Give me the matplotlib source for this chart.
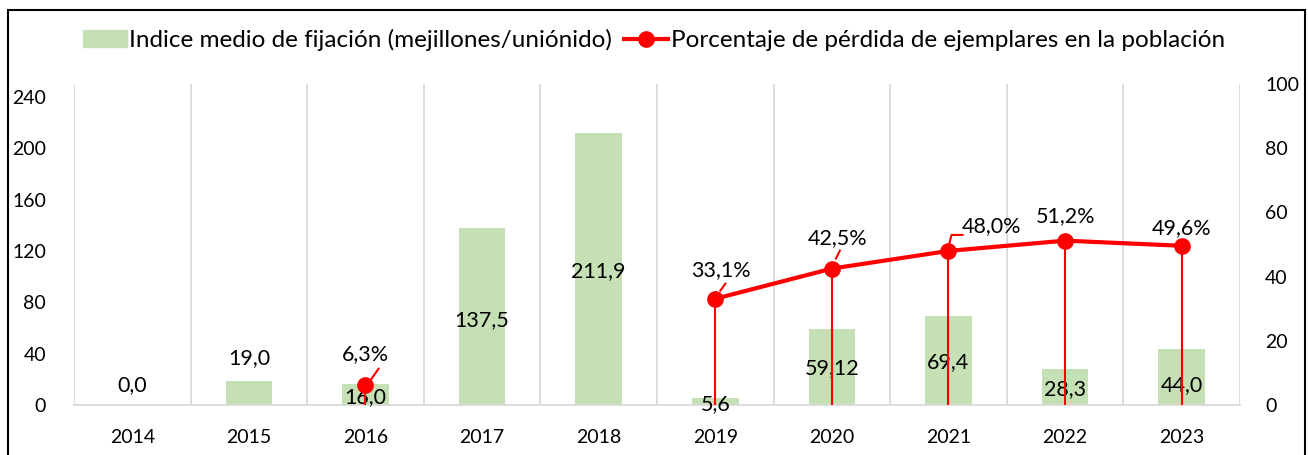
import numpy as np
import matplotlib.pyplot as plt
from matplotlib.patches import Rectangle
from matplotlib.lines import Line2D
import matplotlib.transforms as mtransforms

plt.rcParams['font.family'] = ['Lato', 'DejaVu Sans']

years = ['2014', '2015', '2016', '2017', '2018', '2019', '2020', '2021', '2022', '2023']
fijacion = [0.0, 19.0, 16.0, 137.5, 211.9, 5.6, 59.12, 69.4, 28.3, 44.0]
fijacion_labels = ['0,0', '19,0', '16,0', '137,5', '211,9', '5,6', '59,12', '69,4', '28,3', '44,0']
perdida = [np.nan, np.nan, 6.3, np.nan, np.nan, 33.1, 42.5, 48.0, 51.2, 49.6]
perdida_labels = ['', '', '6,3%', '', '', '33,1%', '42,5%', '48,0%', '51,2%', '49,6%']

# where each data label sits (left axis units for bars, right axis units for the line)
bar_label_y = [15.6, 36.6, 6.2, 66.2, 104.4, 0.8, 28.8, 33.5, 12.5, 15.6]
line_label_pos = {2: (0.0, 15.9), 5: (0.05, 42.0), 6: (0.05, 52.0),
                  7: (0.37, 55.8), 8: (0.0, 58.9), 9: (0.0, 55.1)}
# short leader lines from marker to label, in pixels
leaders = {2: [(6, 6), (13, 16)], 5: [(5, 8), (10, 15)], 6: [(4, 10), (8, 18)],
           7: [(1, 8), (3, 16), (14, 16)]}

GREEN = '#C5E0B4'
RED = '#FF0000'
GRID = '#D9D9D9'

fig = plt.figure(figsize=(13.08, 4.55), dpi=100)
ax = fig.add_axes([74 / 1308, 50 / 455, 1166 / 1308, 321 / 455])
ax2 = ax.twinx()

x = np.arange(len(years))
ax.bar(x, fijacion, width=0.4, color=GREEN, zorder=2)
ax.set_xlim(-0.5, len(years) - 0.5)
ax.set_ylim(0, 250)
ax.set_yticks(np.arange(0, 241, 40))
ax.set_xticks(x)
ax.set_xticklabels(years)

for xb in np.arange(-0.5, len(years), 1.0):
    ax.axvline(xb, color=GRID, lw=1.3, zorder=1)

for a in (ax, ax2):
    for s in a.spines.values():
        s.set_visible(False)
    a.tick_params(length=0, labelsize=14, colors='black')
ax.spines['bottom'].set_visible(True)
ax.spines['bottom'].set_color(GRID)
ax.spines['bottom'].set_linewidth(1.3)
ax.tick_params(axis='x', pad=17)
ax.tick_params(axis='y', pad=20)
ax2.tick_params(axis='y', pad=18)

ax2.set_ylim(0, 100)
ax2.set_yticks(np.arange(0, 101, 20))

perdida = np.array(perdida)
valid = ~np.isnan(perdida)
ax2.vlines(x[valid], 0, perdida[valid], color=RED, lw=1.5, zorder=3)
ax2.plot(x, perdida, color=RED, lw=3, marker='o', markersize=11, zorder=4)

for i, lab in enumerate(fijacion_labels):
    ax.text(x[i], bar_label_y[i], lab, ha='center', va='center', fontsize=15.5, zorder=5)

for i, (dx, yl) in line_label_pos.items():
    ax2.text(x[i] + dx, yl, perdida_labels[i], ha='center', va='center', fontsize=15.5, zorder=5)

for i, pts in leaders.items():
    base = ax2.transData.transform((x[i], perdida[i]))
    px = [base[0] + p[0] for p in pts]
    py = [base[1] + p[1] for p in pts]
    ax2.add_line(Line2D(px, py, color=RED, lw=1.5, transform=mtransforms.IdentityTransform(), zorder=4))

handles = [Rectangle((0, 0), 1, 1, color=GREEN),
           Line2D([], [], color=RED, lw=3, marker='o', markersize=11)]
fig.legend(handles, ['Indice medio de fijación (mejillones/uniónido)',
                     'Porcentaje de pérdida de ejemplares en la población'],
           loc='center', bbox_to_anchor=(0.5, 1 - 40 / 455), ncol=2, frameon=False,
           fontsize=17.5, handlelength=1.8, handletextpad=0.1, columnspacing=0.5)

fig.patches.append(Rectangle((8 / 1308, -0.02), 1297 / 1308, 1.02 - 10 / 455,
                             transform=fig.transFigure, fill=False, edgecolor='black', lw=1.5))

fig.savefig('out.png', dpi=100)
